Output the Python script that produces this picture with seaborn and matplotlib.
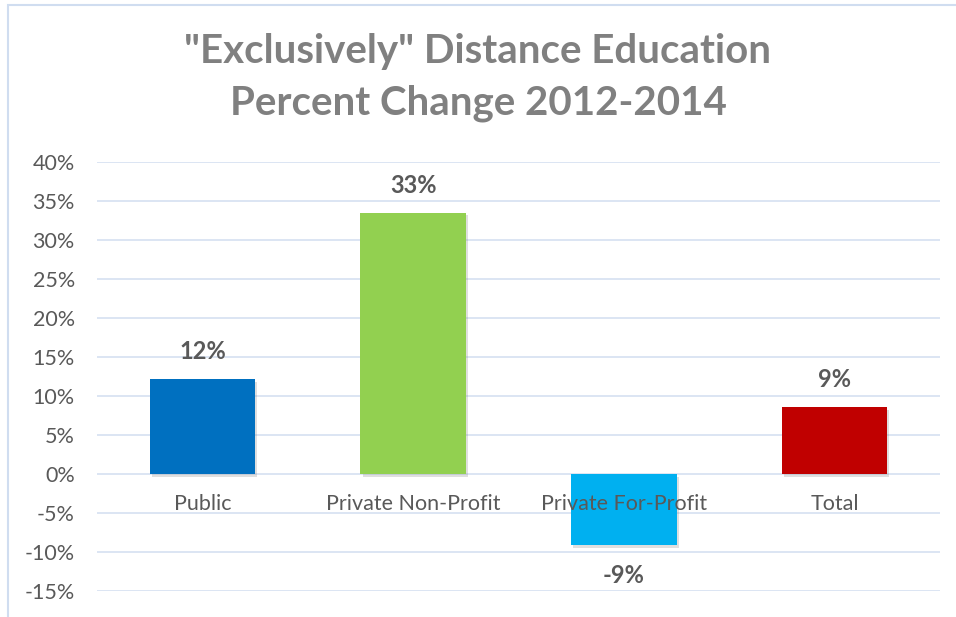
import matplotlib
matplotlib.use("Agg")
import matplotlib.pyplot as plt
import matplotlib.patheffects as pe
from matplotlib.patches import Rectangle
from matplotlib.ticker import MultipleLocator, FuncFormatter
import seaborn as sns
import pandas as pd

# data
categories = ["Public", "Private Non-Profit", "Private For-Profit", "Total"]
values = [12.2, 33.5, -9.1, 8.6]
labels = ["12%", "33%", "-9%", "9%"]
colors = ["#0070C0", "#92D050", "#00B0F0", "#C00000"]

df = pd.DataFrame({"category": categories, "value": values})

sns.set_style("white")
plt.rcParams["font.family"] = ["Lato", "DejaVu Sans"]

fig = plt.figure(figsize=(9.56, 6.17), dpi=100)
ax = fig.add_axes([97 / 956, 26 / 617, 843 / 956, 429 / 617])

sns.barplot(data=df, x="category", y="value", hue="category", palette=colors,
            width=0.5, saturation=1, linewidth=0, legend=False, ax=ax, zorder=3)

# soft drop shadow like the office chart
for bar in ax.patches:
    bar.set_path_effects([pe.SimplePatchShadow(offset=(1.5, -2), alpha=0.25,
                                               shadow_rgbFace="#808080"),
                          pe.Normal()])

ax.set_ylim(-15, 40)
ax.yaxis.set_major_locator(MultipleLocator(5))
ax.yaxis.set_major_formatter(FuncFormatter(lambda v, p: f"{v:.0f}%"))
ax.grid(axis="y", color="#D9E3F2", linewidth=1.3, zorder=0)
ax.tick_params(axis="y", length=0, pad=16, labelsize=15.5, labelcolor="#595959")
ax.set_xticks([])
ax.set_xlabel("")
ax.set_ylabel("")
for s in ax.spines.values():
    s.set_visible(False)

# category names sit just under the zero line
for i, name in enumerate(categories):
    ax.annotate(name, xy=(i, 0), xytext=(0, -30), textcoords="offset pixels",
                ha="center", va="center", fontsize=15.5, color="#595959")

# value labels
for i, (v, t) in enumerate(zip(values, labels)):
    off = 27 if v >= 0 else -31
    ax.annotate(t, xy=(i, v), xytext=(0, off), textcoords="offset pixels",
                ha="center", va="center", fontsize=17, fontweight="bold",
                color="#595959")

fig.text(478 / 956, 1 - 52 / 617, '"Exclusively" Distance Education',
         ha="center", va="center", fontsize=29, fontweight="bold", color="#808080")
fig.text(478 / 956, 1 - 103 / 617, "Percent Change 2012-2014",
         ha="center", va="center", fontsize=29, fontweight="bold", color="#808080")

# chart frame (only top and left edges show in the crop)
fig.patches.append(Rectangle((8 / 956, -0.1), 1.2, 1 - 5 / 617 + 0.1,
                             transform=fig.transFigure, fill=False,
                             edgecolor="#D0DDF0", linewidth=1.5))

fig.savefig("out.png", dpi=100)
